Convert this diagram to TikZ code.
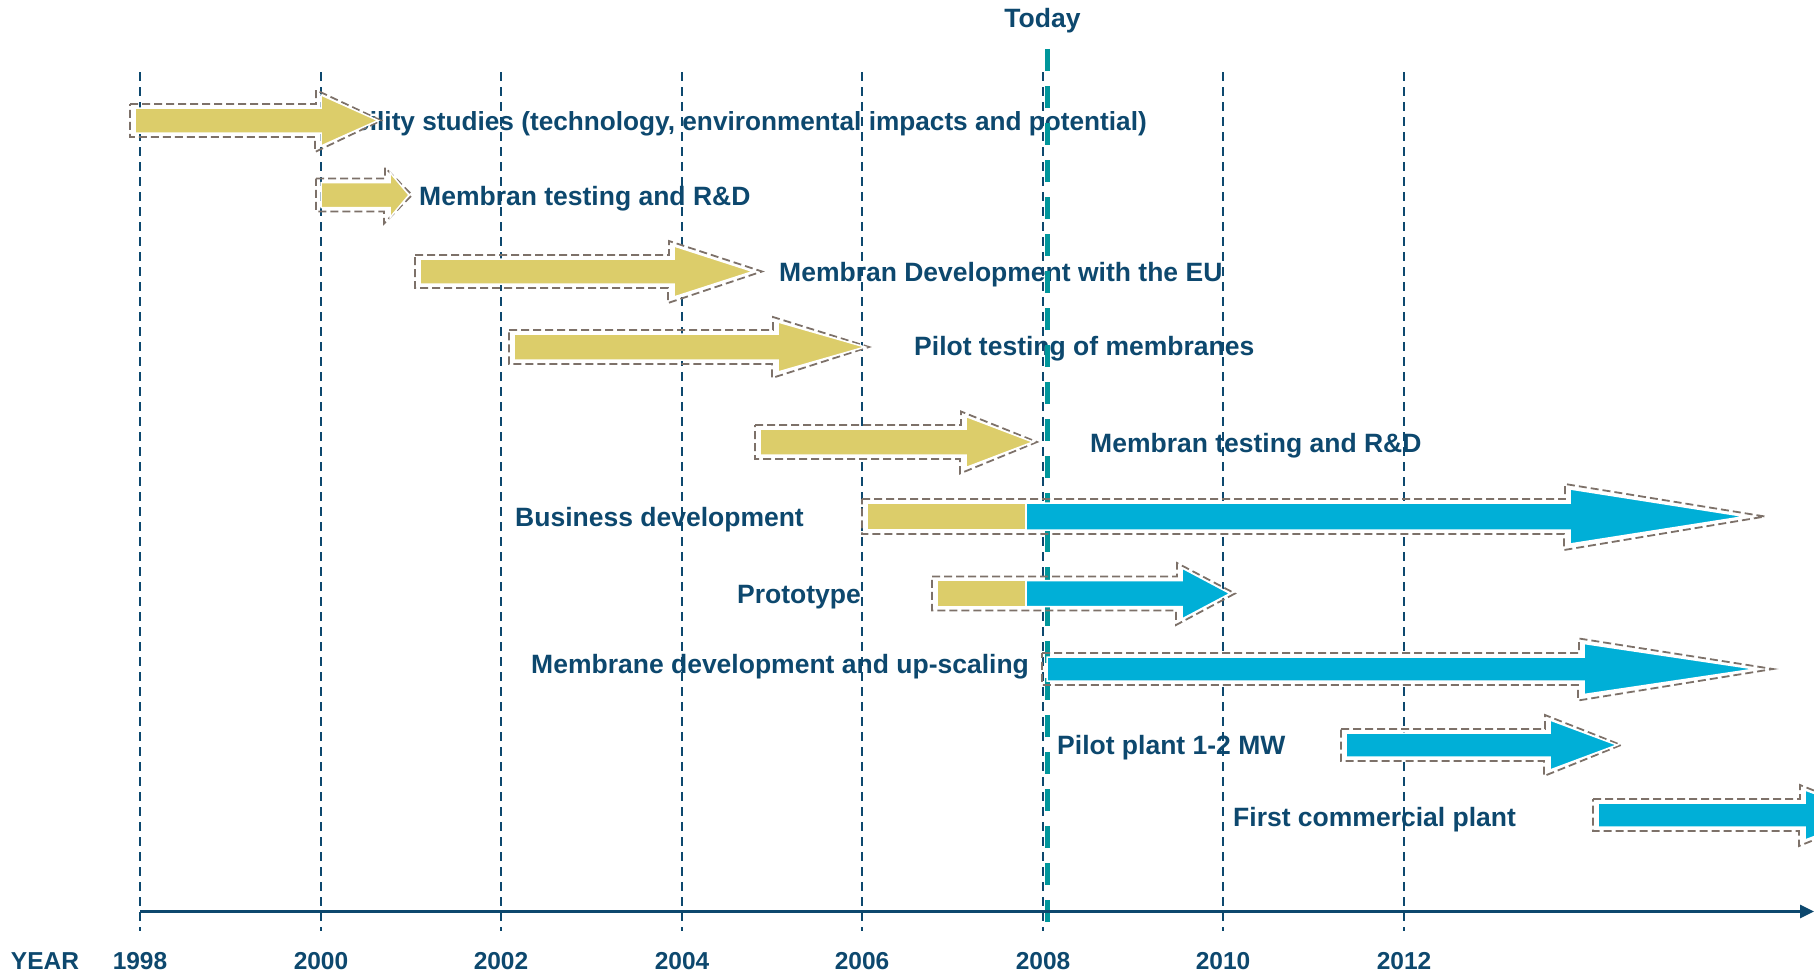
\documentclass[tikz,border=0pt]{standalone}
\usepackage{fontspec}
\setmainfont{Liberation Sans}
\usetikzlibrary{arrows.meta}
\definecolor{txt}{RGB}{13,72,110}
\definecolor{gold}{RGB}{220,205,106}
\definecolor{cyanb}{RGB}{0,175,215}
\definecolor{tealb}{RGB}{0,150,155}
\definecolor{outg}{RGB}{125,113,105}
\tikzset{
  lbl/.style={font=\fontsize{26.5}{30}\bfseries\selectfont, text=txt, inner sep=0pt, anchor=base west},
  lble/.style={lbl, anchor=base east},
  yr/.style={font=\fontsize{24.5}{28}\bfseries\selectfont, text=txt, inner sep=0pt, anchor=base},
  yearline/.style={draw=txt, line width=2pt, dash pattern=on 9pt off 6pt},
  todayline/.style={draw=tealb, line width=5pt, dash pattern=on 22pt off 15pt},
  axisline/.style={draw=txt, line width=2.6pt, -{Triangle[length=14pt,width=13pt]}},
  outl/.style={draw=outg, line width=1.8pt, dash pattern=on 8pt off 4pt},
  goldfill/.style={fill=gold, draw=white, line width=1.5pt},
  cyanfill/.style={fill=cyanb, draw=white, line width=1.5pt}
}
\newcommand\tlfill[7]{% style, L, N, T, yc, hs, hh
  \path[#1] ({#2},{#5-#6}) -- ({#3},{#5-#6}) -- ({#3},{#5-#7}) -- ({#4},{#5}) -- ({#3},{#5+#7}) -- ({#3},{#5+#6}) -- ({#2},{#5+#6}) -- cycle;}
\newcommand\tlout[7]{% L, N, T, yc, hs, hh, tipoff
  \draw[outl] ({#1-5},{#4-#5-4}) -- ({#2-5},{#4-#5-4}) -- ({#2-5},{#4-#6-5}) -- ({#3+#7},{#4}) -- ({#2-6},{#4+#6+6}) -- ({#2-6},{#4+#5+4}) -- ({#1-5},{#4+#5+4}) -- cycle;}
\begin{document}
\begin{tikzpicture}[x=1pt,y=-1pt]
\useasboundingbox (0,0) rectangle (1814,974);
\clip (0,0) rectangle (1814,974);
% labels
\node[lble, font=\fontsize{26.2}{30}\bfseries\selectfont] (t1) at (1147,130) {Feasibility studies (technology, environmental impacts and potential)};
\node[lbl] (t2) at (419,205) {Membran testing and R\&D};
\node[lbl] (t3) at (779,281.5) {Membran Development with the EU};
\node[lbl] (t4) at (914,355) {Pilot testing of membranes};
\node[lbl] (t5) at (1090,452.5) {Membran testing and R\&D};
\node[lbl] (t6) at (515,526.5) {Business development};
\node[lbl] (t7) at (737,603) {Prototype};
\node[lbl] (t8) at (531,673.5) {Membrane development and up-scaling};
\node[lbl] (t9) at (1057,754.5) {Pilot plant 1-2 MW};
\node[lbl] (t10) at (1233,826) {First commercial plant};
\node[yr, font=\fontsize{26.5}{30}\bfseries\selectfont] (today) at (1042.5,27.5) {Today};
% year lines and labels
\node[yr] (year) at (45,969) {YEAR};
\foreach \yy [count=\i from 0] in {1998,2000,2002,2004,2006,2008,2010,2012}{
  \pgfmathsetmacro\xx{140+round(180.5*\i)}
  \coordinate (top\yy) at (\xx,72);
  \coordinate (bot\yy) at (\xx,931);
  \draw[yearline] (top\yy) -- (bot\yy);
  \node[yr] (lab\yy) at (\xx,969) {\yy};
}
\coordinate (todaytop) at (1047,49);
\coordinate (todaybot) at (1047,931);
\draw[todayline] (todaytop) -- (todaybot);
\coordinate (axstart) at (140,911.5);
\coordinate (axend) at (1814,911.5);
\draw[axisline] (axstart) -- (axend);
% arrows
\tlout{135}{321}{378}{120.5}{12.5}{25.5}{3}
\tlfill{goldfill}{135}{321}{378}{120.5}{12.5}{25.5}
\tlout{321}{390}{409}{195}{12.5}{22.5}{3}
\tlfill{goldfill}{321}{390}{409}{195}{12.5}{22.5}
\tlout{420}{674}{753}{271.5}{12.5}{25.5}{9}
\tlfill{goldfill}{420}{674}{753}{271.5}{12.5}{25.5}
\tlout{514}{778}{865}{347}{13}{25}{4}
\tlfill{goldfill}{514}{778}{865}{347}{13}{25}
\tlout{760}{966}{1033}{442}{13}{25.5}{4}
\tlfill{goldfill}{760}{966}{1033}{442}{13}{25.5}
% business development
\tlout{867}{1570}{1745}{516.5}{13.5}{27.5}{20}
\path[goldfill] (867,503) rectangle (1026,530);
\tlfill{cyanfill}{1026}{1570}{1745}{516.5}{13.5}{27.5}
% prototype
\tlout{937}{1182}{1230}{593.5}{13}{25.5}{5}
\path[goldfill] (937,580.5) rectangle (1026,606.5);
\tlfill{cyanfill}{1026}{1182}{1230}{593.5}{13}{25.5}
% membrane development
\tlout{1047}{1584}{1755}{669}{12}{25.5}{18}
\tlfill{cyanfill}{1047}{1584}{1755}{669}{12}{25.5}
% pilot plant
\tlout{1346}{1550}{1617}{745}{12}{25}{4}
\tlfill{cyanfill}{1346}{1550}{1617}{745}{12}{25}
% first commercial plant
\tlout{1598}{1805}{1872}{815}{12}{25}{4}
\tlfill{cyanfill}{1598}{1805}{1872}{815}{12}{25}
\end{tikzpicture}
\end{document}
